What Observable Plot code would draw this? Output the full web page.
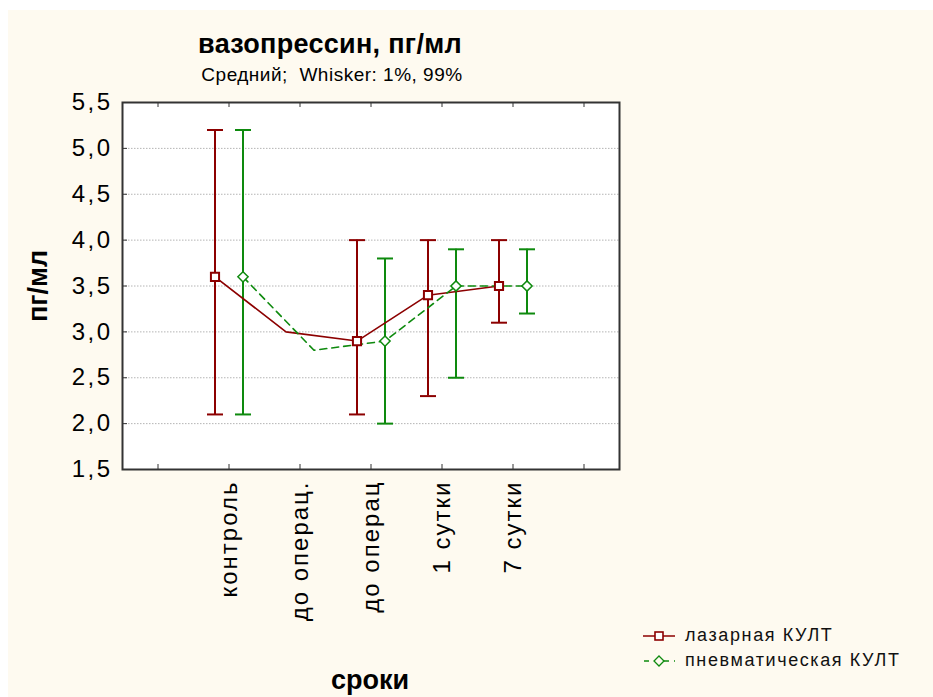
<!DOCTYPE html>
<html><head><meta charset="utf-8">
<script src="https://cdn.jsdelivr.net/npm/d3@7"></script>
<script src="https://cdn.jsdelivr.net/npm/@observablehq/plot@0.6"></script>
<style>
html,body{margin:0;padding:0;background:#fff;}
body{font-family:"Liberation Sans",Arial,sans-serif;width:933px;height:697px;position:relative;overflow:hidden;}
#wrap{position:absolute;left:8px;top:10px;width:925px;height:687px;background:#fefaf0;overflow:hidden;}
#chart{position:absolute;left:0;top:0;}
.t{position:absolute;white-space:nowrap;color:#000;line-height:1;}
#title{left:322px;top:21px;transform:translateX(-50%);font-size:27px;font-weight:bold;letter-spacing:0.3px;}
#subtitle{left:324px;top:55px;transform:translateX(-50%);font-size:19px;letter-spacing:0.5px;}
#xlabel{left:362px;top:657px;transform:translateX(-50%);font-size:27px;font-weight:bold;}
#ylabel{left:30px;top:276px;transform:translate(-50%,-50%) rotate(-90deg);font-size:27px;font-weight:bold;}
#legend{position:absolute;left:635px;top:613px;}
.lrow{display:flex;align-items:center;height:25px;}
.lrow span{font-size:18px;letter-spacing:1.6px;margin-left:10px;color:#111;}
#chart svg g[aria-label="y-axis tick label"] text{font-size:24px;letter-spacing:2.5px;}
#chart svg g[aria-label="x-axis tick label"] text{font-size:24px;letter-spacing:2px;}
</style></head><body>
<div id="wrap">
  <div id="chart"></div>
  <div class="t" id="title">вазопрессин, пг/мл</div>
  <div class="t" id="subtitle">Средний;&nbsp; Whisker: 1%, 99%</div>
  <div class="t" id="xlabel">сроки</div>
  <div class="t" id="ylabel">пг/мл</div>
  <div id="legend">
    <div class="lrow"><svg width="32" height="14"><line x1="0" y1="7" x2="32" y2="7" stroke="#8c0000" stroke-width="1.5"/><rect x="12" y="3" width="8" height="8" fill="#fff" stroke="#8c0000" stroke-width="1.6"/></svg><span>лазарная КУЛТ</span></div>
    <div class="lrow"><svg width="32" height="14"><line x1="0" y1="7" x2="32" y2="7" stroke="#0e8a0e" stroke-width="1.5" stroke-dasharray="5,5" stroke-dashoffset="-1"/><path d="M16,2 L21,7 L16,12 L11,7 Z" fill="#fefaf0" stroke="#0e8a0e" stroke-width="1.3"/></svg><span>пневматическая КУЛТ</span></div>
  </div>
</div>
<script>
// ---- data ----
const categories = ["контроль", "до операц.", "до операц", "1 сутки", "7 сутки"];
const categoryPos = [1, 2, 3, 4, 5];
const seriesNames = ["лазарная КУЛТ", "пневматическая КУЛТ"];
const laserMean = [3.6, 3.0, 2.9, 3.4, 3.5];
const laserLow  = [2.1, null, 2.1, 2.3, 3.1];
const laserHigh = [5.2, null, 4.0, 4.0, 4.0];
const pneuMean  = [3.6, 2.8, 2.9, 3.5, 3.5];
const pneuLow   = [2.1, null, 2.0, 2.5, 3.2];
const pneuHigh  = [5.2, null, 3.8, 3.9, 3.9];
const yTicks = [1.5, 2.0, 2.5, 3.0, 3.5, 4.0, 4.5, 5.0, 5.5];
const xTicks = [0, 1, 2, 3, 4, 5, 6];

const RED = "#8c0000", GREEN = "#0e8a0e";
const build = (mean, low, high) => categoryPos.map((p, i) => ({pos: p, mean: mean[i], low: low[i], high: high[i]}));
const laser = build(laserMean, laserLow, laserHigh);
const pneu = build(pneuMean, pneuLow, pneuHigh);
const laserW = laser.filter(d => d.low != null);
const pneuW = pneu.filter(d => d.low != null);

const capSymbol = {draw(ctx, size) { const r = Math.sqrt(size / Math.PI); ctx.moveTo(-r, 0); ctx.lineTo(r, 0); }};

const FW = 497, FH = 367; // frame size in px (style)
const fmt = d => d.toFixed(1).replace(".", ",");

const chart = Plot.plot({
  width: 925, height: 687,
  marginLeft: 114, marginRight: 314, marginTop: 92, marginBottom: 228,
  x: {domain: [-0.5, 6.5]},
  y: {domain: [1.5, 5.5]},
  style: {background: "transparent", fontFamily: "'Liberation Sans', Arial, sans-serif", color: "#000"},
  marks: [
    Plot.frame({fill: "white", stroke: "none"}),
    Plot.gridY(yTicks.slice(1, -1), {stroke: "#b4b4b4", strokeOpacity: 1, strokeDasharray: "1.5,1.5", strokeWidth: 1}),
    Plot.tickY(yTicks, {y: d => d, stroke: "#333", insetRight: FW - 5}),
    Plot.tickX(xTicks, {x: d => d, stroke: "#333", insetTop: FH - 5}),
    Plot.tickX(xTicks, {x: d => d, stroke: "#333", insetBottom: FH - 5}),
    Plot.axisY(yTicks, {tickSize: 0, tickPadding: 10, tickFormat: fmt, fontSize: 24, label: null}),
    Plot.axisX(categoryPos, {tickSize: 0, tickPadding: 11, tickRotate: -90, tickFormat: d => categories[d - 1], fontSize: 24, label: null}),
    // whiskers
    Plot.ruleX(laserW, {x: "pos", y1: "low", y2: "high", dx: -14, stroke: RED, strokeWidth: 2}),
    Plot.ruleX(pneuW, {x: "pos", y1: "low", y2: "high", dx: 14, stroke: GREEN, strokeWidth: 2}),
    Plot.dot(laserW, {x: "pos", y: "low", dx: -14, symbol: capSymbol, r: 8, stroke: RED, strokeWidth: 2}),
    Plot.dot(laserW, {x: "pos", y: "high", dx: -14, symbol: capSymbol, r: 8, stroke: RED, strokeWidth: 2}),
    Plot.dot(pneuW, {x: "pos", y: "low", dx: 14, symbol: capSymbol, r: 8, stroke: GREEN, strokeWidth: 2}),
    Plot.dot(pneuW, {x: "pos", y: "high", dx: 14, symbol: capSymbol, r: 8, stroke: GREEN, strokeWidth: 2}),
    // mean lines
    Plot.line(laser, {x: "pos", y: "mean", dx: -14, stroke: RED, strokeWidth: 1.6}),
    Plot.line(pneu, {x: "pos", y: "mean", dx: 14, stroke: GREEN, strokeWidth: 1.6, strokeDasharray: "7,5"}),
    // markers
    Plot.dot(laserW, {x: "pos", y: "mean", dx: -14, symbol: "square", r: 4.6, fill: "white", stroke: RED, strokeWidth: 2}),
    Plot.dot(pneuW, {x: "pos", y: "mean", dx: 14, symbol: "diamond2", r: 4.6, fill: "white", stroke: GREEN, strokeWidth: 1.5}),
    Plot.frame({stroke: "#333", strokeWidth: 2})
  ]
});
document.getElementById("chart").appendChild(chart);
</script>
</body></html>
